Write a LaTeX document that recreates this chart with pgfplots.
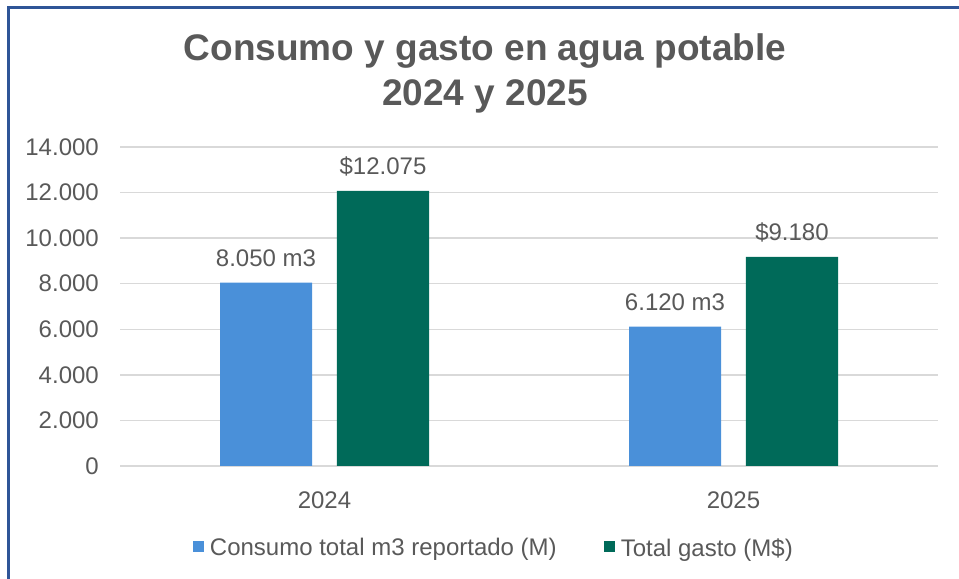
\documentclass[border=0pt]{standalone}
\usepackage{fontspec}
\setmainfont{Liberation Sans}
\usepackage{pgfplots}
\pgfplotsset{compat=1.18}
\definecolor{txt}{HTML}{595959}
\definecolor{barblue}{HTML}{4A90D9}
\definecolor{bargreen}{HTML}{006A59}
\definecolor{gridc}{HTML}{D9D9D9}
\definecolor{framec}{HTML}{2F5597}
\begin{document}
\begin{tikzpicture}
\useasboundingbox (0,0) rectangle (959bp,579bp);
\begin{scope}
\clip (0,0) rectangle (959bp,579bp);
\draw[framec, line width=2.6bp] (8.3bp,571.3bp) rectangle (1000bp,-50bp);
\end{scope}
\node[anchor=base, text=txt, inner sep=0pt, font=\bfseries\fontsize{37bp}{44bp}\selectfont] at (485bp,518bp) {Consumo y gasto en agua potable};
\node[anchor=base, text=txt, inner sep=0pt, font=\bfseries\fontsize{37bp}{44bp}\selectfont] at (485bp,473bp) {2024 y 2025};
\begin{axis}[
  at={(120bp,113bp)}, anchor=south west,
  scale only axis, width=818bp, height=319bp,
  xmin=-0.5, xmax=1.5, ymin=0, ymax=14000,
  ybar, bar width=0.225,
  axis line style={draw=none},
  tick style={draw=none},
  ymajorgrids, grid style={gridc, line width=1.3bp},
  ytick={0,2000,4000,6000,8000,10000,12000,14000},
  xtick={0,1}, xticklabels={2024,2025},
  scaled y ticks=false,
  /pgf/number format/1000 sep={.},
  /pgf/number format/assume math mode=true,
  ticklabel style={font=\fontsize{24bp}{28bp}\selectfont, text=txt, inner sep=0pt},
  yticklabel style={anchor=east, xshift=-21bp},
  xticklabel style={anchor=north, yshift=-21bp},
  point meta=explicit symbolic,
  nodes near coords,
  every node near coord/.append style={anchor=base, yshift=16.5bp, font=\fontsize{24bp}{28bp}\selectfont, text=txt, inner sep=0pt},
  legend columns=2,
  legend style={draw=none, fill=none, at={(0.0892,-0.257)}, anchor=west, inner sep=0pt, outer sep=0pt,
    font=\fontsize{24bp}{28bp}\selectfont, text=txt, nodes={inner sep=0pt},
    /tikz/every odd column/.append style={column sep=6bp},
    /tikz/every even column/.append style={column sep=47bp}},
  legend image code/.code={\fill[#1] (0bp,-4.25bp) rectangle (11bp,6.75bp);},
]
\addplot[fill=barblue, draw=none, bar shift=-0.143] coordinates {(0,8050) [8.050 m3] (1,6120) [6.120 m3]};
\addlegendentry{Consumo total m3 reportado (M)}
\addplot[fill=bargreen, draw=none, bar shift=0.143] coordinates {(0,12075) [\$12.075] (1,9180) [\$9.180]};
\addlegendentry{Total gasto (M\$)}
\end{axis}
\end{tikzpicture}
\end{document}
